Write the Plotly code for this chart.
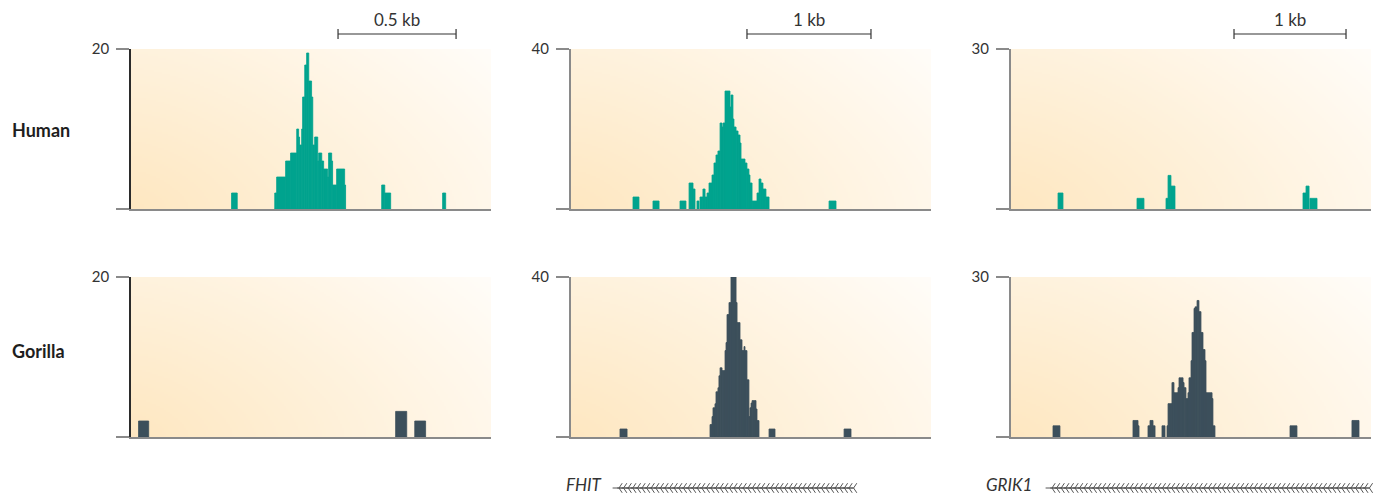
import base64
import struct
import zlib

import numpy as np
import plotly.graph_objects as go

W, H = 1384, 497

# ---------------- data ----------------
ROW_LABELS = ["Human", "Gorilla"]
GENE_LABELS = ["", "FHIT", "GRIK1"]
WINDOW_BP = [1525, 2903, 3214]          # genomic window shown in each column (bp)
Y_MAX = [20, 40, 30]                    # y-axis maximum per column
SCALE_BAR_START = [877, 1419, 1991]     # bp
SCALE_BAR_LEN = [500, 1000, 1000]       # bp
SCALE_BAR_TEXT = ["0.5 kb", "1 kb", "1 kb"]

human_l_start = [426, 609, 617, 655, 676, 702, 710, 714, 723, 727, 736, 744, 753, 765, 770, 778, 791, 795,
                 808, 816, 833, 837, 850, 854, 871, 905, 1062, 1075, 1320]
human_l_end = [450, 617, 655, 676, 702, 710, 714, 723, 727, 736, 744, 753, 765, 770, 778, 791, 795, 808,
               816, 833, 837, 850, 854, 871, 905, 909, 1075, 1100, 1333]
human_l_h = [2, 2, 4, 6, 7, 10, 9, 8, 10, 14, 18, 19.5, 16, 14, 8, 9, 6, 7, 6, 5, 4, 7, 6, 3, 5, 3, 3, 2, 2]

human_fhit_start = [500, 661, 879, 952, 984, 1016, 1040, 1064, 1081, 1097, 1113, 1137, 1153, 1169, 1185,
                    1202, 1218, 1226, 1242, 1282, 1290, 1306, 1314, 1331, 1347, 1363, 1371, 1403, 1419,
                    1435, 1443, 1460, 1500, 1516, 1532, 1548, 1572, 2081]
human_fhit_end = [548, 710, 927, 984, 1000, 1032, 1064, 1081, 1097, 1113, 1137, 1153, 1169, 1185, 1202,
                  1218, 1226, 1242, 1282, 1290, 1306, 1314, 1331, 1347, 1363, 1371, 1403, 1419, 1435,
                  1443, 1460, 1500, 1516, 1532, 1548, 1572, 1597, 2137]
human_fhit_h = [3, 2, 2, 6.5, 5, 2, 3, 5, 3, 4, 6.5, 8.5, 11.5, 13.5, 14.5, 21.5, 20.5, 21.5, 29.5, 25.5,
                28.5, 22.5, 20.5, 19.5, 18.5, 16.5, 12.5, 11.5, 10, 8.5, 6.5, 2, 4, 7.5, 6.5, 5, 3, 2]

human_grik1_start = [420, 1125, 1384, 1402, 1428, 2607, 2634, 2669]
human_grik1_end = [464, 1187, 1402, 1428, 1464, 2634, 2661, 2732]
human_grik1_h = [3, 2, 2, 6.3, 4.3, 3, 4.3, 2]

gorilla_l_start = [32, 1121, 1202]
gorilla_l_end = [75, 1168, 1248]
gorilla_l_h = [2, 3.2, 2]

gorilla_fhit_start = [395, 1121, 1137, 1145, 1161, 1169, 1185, 1193, 1202, 1218, 1242, 1250, 1258, 1274,
                      1290, 1331, 1339, 1363, 1379, 1395, 1403, 1419, 1435, 1443, 1452, 1460, 1492, 1500,
                      1597, 2202]
gorilla_fhit_end = [452, 1137, 1145, 1161, 1169, 1185, 1193, 1202, 1218, 1242, 1250, 1258, 1274, 1290,
                    1331, 1339, 1363, 1379, 1395, 1403, 1419, 1435, 1443, 1452, 1460, 1492, 1500, 1516,
                    1645, 2258]
gorilla_fhit_h = [2, 3.1, 5.1, 7.3, 8.3, 11.3, 12.3, 15.3, 17.3, 16.6, 21.6, 23.6, 30.6, 33.6, 40, 33.6,
                  28.6, 24.3, 21.6, 22.6, 21.6, 14.3, 5.1, 7.3, 8.5, 9.1, 7, 4.1, 2, 2]

gorilla_grik1_start = [375, 1089, 1134, 1223, 1241, 1268, 1348, 1393, 1402, 1437, 1455, 1491, 1500, 1536,
                       1545, 1562, 1580, 1589, 1607, 1616, 1634, 1643, 1661, 1678, 1696, 1714, 1732, 1741,
                       1795, 1803, 2491, 3044]
gorilla_grik1_end = [437, 1134, 1143, 1241, 1268, 1286, 1375, 1402, 1437, 1455, 1491, 1500, 1536, 1545,
                     1562, 1580, 1589, 1607, 1616, 1634, 1643, 1661, 1678, 1696, 1714, 1732, 1741, 1795,
                     1803, 1821, 2553, 3107]
gorilla_grik1_h = [2.1, 3.1, 2.1, 2.1, 3.1, 2.1, 2.1, 2.1, 6.25, 10.2, 8.3, 9.25, 11.1, 10.2, 9.25, 7.2,
                   8.3, 11.1, 14.3, 19.6, 24.1, 24.4, 25.6, 23.5, 19.6, 16.4, 14.3, 8.3, 7.2, 2.1, 2.1, 3.1]

PANELS = [
    (human_l_start, human_l_end, human_l_h),
    (human_fhit_start, human_fhit_end, human_fhit_h),
    (human_grik1_start, human_grik1_end, human_grik1_h),
    (gorilla_l_start, gorilla_l_end, gorilla_l_h),
    (gorilla_fhit_start, gorilla_fhit_end, gorilla_fhit_h),
    (gorilla_grik1_start, gorilla_grik1_end, gorilla_grik1_h),
]
ROW_COLORS = ["#00a38e", "#3c4f5b"]

# ---------------- layout geometry (pixels) ----------------
COL_X = [(131, 491), (571, 931), (1011, 1371)]
ROW_Y = [(49, 209), (277, 437)]
FONT = "Lato"


def px_x(x):
    return x / W


def px_y(y):
    return (H - y) / H


def gradient_png(w=180, h=80):
    o = np.array([254, 231, 193], dtype=float)
    wh = np.array([255, 255, 255], dtype=float)
    u = np.linspace(0, 1, w)[None, :]
    v = np.linspace(1, 0, h)[:, None]
    p = 1.5
    t = ((0.67 * u) ** p + (0.45 * v) ** p) ** (1 / p)
    t = np.clip(t, 0, 1)
    img = o[None, None, :] * (1 - t[..., None]) + wh[None, None, :] * t[..., None]
    img = np.round(img).astype(np.uint8)
    raw = b"".join(b"\x00" + img[j].tobytes() for j in range(h))

    def chunk(tag, data):
        c = struct.pack(">I", len(data)) + tag + data
        return c + struct.pack(">I", zlib.crc32(tag + data) & 0xFFFFFFFF)

    png = b"\x89PNG\r\n\x1a\n" + chunk(b"IHDR", struct.pack(">IIBBBBB", w, h, 8, 2, 0, 0, 0))
    png += chunk(b"IDAT", zlib.compress(raw, 9)) + chunk(b"IEND", b"")
    return "data:image/png;base64," + base64.b64encode(png).decode()


BG = gradient_png()

fig = go.Figure()
layout = dict(
    width=W, height=H, margin=dict(l=0, r=0, t=0, b=0, pad=0, autoexpand=False),
    paper_bgcolor="white", plot_bgcolor="rgba(0,0,0,0)",
    showlegend=False, barmode="overlay",
    font=dict(family=FONT, color="#333333"),
    images=[], shapes=[], annotations=[],
)

for i, (st, en, hh) in enumerate(PANELS):
    r, c = divmod(i, 3)
    n = i + 1
    sfx = "" if n == 1 else str(n)
    st_a, en_a = np.array(st, float), np.array(en, float)
    fig.add_trace(go.Bar(
        x=(st_a + en_a) / 2, y=hh, width=en_a - st_a,
        xaxis="x" + sfx, yaxis="y" + sfx,
        marker=dict(color=ROW_COLORS[r], line=dict(width=0.8, color=ROW_COLORS[r])),
        hoverinfo="skip",
    ))
    x0, x1 = COL_X[c]
    y0, y1 = ROW_Y[r]
    axis_dark = "#2b2b2b" if c == 0 else "#8a8a8a"
    layout["xaxis" + sfx] = dict(
        domain=[px_x(x0), px_x(x1)], range=[0, WINDOW_BP[c]], anchor="y" + sfx,
        showline=True, linecolor="#8a8a8a", linewidth=2, ticks="", showticklabels=False,
        showgrid=False, zeroline=False, fixedrange=True, automargin=False,
    )
    layout["yaxis" + sfx] = dict(
        domain=[px_y(y1), px_y(y0)], range=[0, Y_MAX[c]], anchor="x" + sfx,
        showline=True, linecolor=axis_dark, linewidth=1.5 if c == 0 else 2,
        ticks="outside", ticklen=13, tickwidth=2, tickcolor="#8a8a8a",
        tickvals=[0, Y_MAX[c]], ticktext=["", str(Y_MAX[c])],
        tickfont=dict(size=15, color="#333333", family=FONT), ticklabelstandoff=4,
        showgrid=False, zeroline=False, fixedrange=True, automargin=False,
    )
    layout["images"].append(dict(
        source=BG, xref="paper", yref="paper", x=px_x(x0), y=px_y(y0),
        sizex=(x1 - x0) / W, sizey=(y1 - y0) / H, xanchor="left", yanchor="top",
        sizing="stretch", layer="below",
    ))

# scale bars (top row)
for c in range(3):
    xref = "x" if c == 0 else "x" + str(c + 1)
    s, e = SCALE_BAR_START[c], SCALE_BAR_START[c] + SCALE_BAR_LEN[c]
    line = dict(color="#333333", width=1.2)
    layout["shapes"].append(dict(type="line", xref=xref, yref="paper", x0=s, x1=e,
                                 y0=px_y(34), y1=px_y(34), line=line))
    for xe in (s, e):
        layout["shapes"].append(dict(type="line", xref=xref, yref="paper", x0=xe, x1=xe,
                                     y0=px_y(29), y1=px_y(39), line=line))
    layout["annotations"].append(dict(
        text=SCALE_BAR_TEXT[c], xref=xref, yref="paper", x=(s + e) / 2, y=px_y(19),
        showarrow=False, xanchor="center", yanchor="middle",
        font=dict(size=17, color="#333333", family=FONT),
    ))

# row labels
for r, lab in enumerate(ROW_LABELS):
    yc = [130, 351][r]
    layout["annotations"].append(dict(
        text="<b>" + lab + "</b>", xref="paper", yref="paper", x=px_x(10), y=px_y(yc),
        showarrow=False, xanchor="left", yanchor="middle",
        font=dict(size=18, color="#1e1e1e", family=FONT),
    ))

# gene tracks (decorative strand chevrons) on a full-page overlay axis
GENE_TEXT_X = [None, 565, 985]
GENE_TRACK = [None, (619, 857), (1052, 1371)]
layout["xaxis7"] = dict(domain=[0, 1], range=[0, W], anchor="y7", visible=False, fixedrange=True,
                        automargin=False)
layout["yaxis7"] = dict(domain=[0, 1], range=[H, 0], anchor="x7", visible=False, fixedrange=True,
                        automargin=False)
for c in (1, 2):
    layout["annotations"].append(dict(
        text=GENE_LABELS[c], xref="paper", yref="paper", x=px_x(GENE_TEXT_X[c]), y=px_y(496),
        showarrow=False, xanchor="left", yanchor="bottom", borderpad=0,
        font=dict(size=17, color="#333333", family=FONT, style="italic"),
    ))
    a, b = GENE_TRACK[c]
    xs = np.arange(a, b, 4.6)
    fig.add_trace(go.Scatter(
        x=xs, y=np.full(len(xs), 488.0), xaxis="x7", yaxis="y7", mode="lines+markers",
        line=dict(color="#555555", width=1),
        marker=dict(symbol="y-left", size=8, color="#555555", line=dict(color="#555555", width=1)),
        hoverinfo="skip", cliponaxis=False,
    ))

fig.update_layout(**layout)
fig.write_html(
    "out.html",
    config={"displayModeBar": False},
    post_script="document.body.style.margin='0';document.body.style.overflow='hidden';",
)
